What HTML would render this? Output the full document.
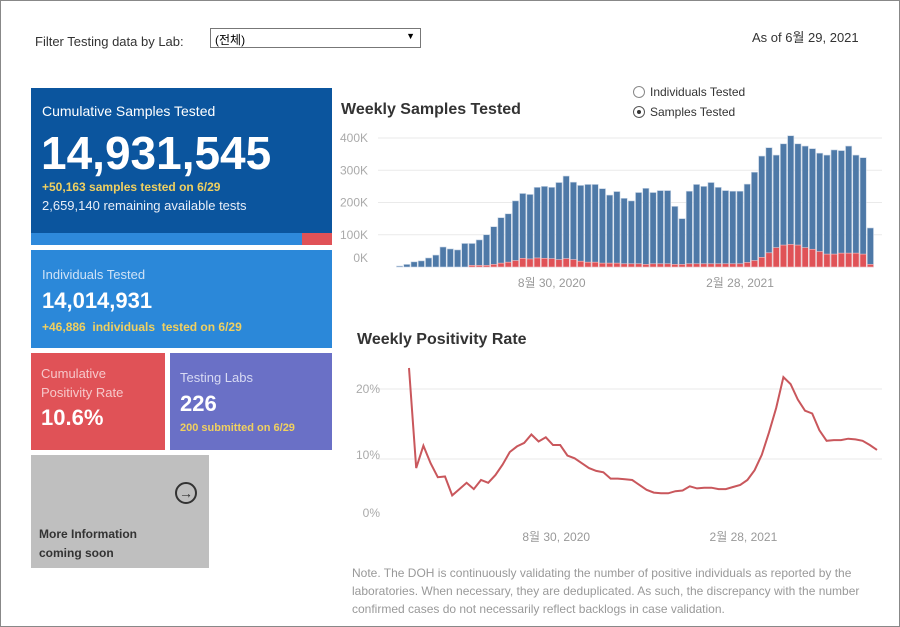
<!DOCTYPE html>
<html><head><meta charset="utf-8"><style>
body{margin:0;width:900px;height:627px;overflow:hidden;background:#fff;font-family:"Liberation Sans","Noto Sans CJK KR",sans-serif;position:relative}
.frame{position:absolute;left:0;top:0;width:898px;height:625px;border:1px solid #888}
.abs{position:absolute}
.t{position:absolute;white-space:nowrap}
</style></head><body>
<div class="frame"></div>
<div class="t" style="left:35px;top:34px;font-size:13px;color:#333">Filter Testing data by Lab:</div>
<div class="abs" style="left:210px;top:28px;width:209px;height:18px;border:1px solid #777;font-size:12px;"><span style="position:absolute;left:4px;top:2px">(전체)</span><span style="position:absolute;right:5px;top:2px;font-size:9px">▼</span></div>
<div class="t" style="left:752px;top:27px;font-size:13px;color:#333">As of 6월 29, 2021</div>

<div class="abs" style="left:31px;top:88px;width:301px;height:157px;background:#0b559e">
<div class="t" style="left:11px;top:15px;font-size:14px;color:#fff">Cumulative Samples Tested</div>
<div class="t" style="left:10px;top:38px;font-size:46px;font-weight:bold;color:#fff">14,931,545</div>
<div class="t" style="left:11px;top:92px;font-size:12px;font-weight:bold;color:#f0d060">+50,163 samples tested on 6/29</div>
<div class="t" style="left:11px;top:110px;font-size:13px;color:#e8eef8">2,659,140 remaining available tests</div>
<div class="abs" style="left:0;top:145px;width:271px;height:12px;background:#2e89db"></div>
<div class="abs" style="left:271px;top:145px;width:30px;height:12px;background:#e05257"></div>
</div>
<div class="abs" style="left:31px;top:250px;width:301px;height:98px;background:#2b88d9">
<div class="t" style="left:11px;top:17px;font-size:13px;color:#cfe2f6">Individuals Tested</div>
<div class="t" style="left:11px;top:38px;font-size:22px;font-weight:bold;color:#fff">14,014,931</div>
<div class="t" style="left:11px;top:70px;font-size:12px;font-weight:bold;color:#f0d060">+46,886 &nbsp;individuals &nbsp;tested on 6/29</div>
</div>
<div class="abs" style="left:31px;top:353px;width:134px;height:97px;background:#e05257">
<div class="t" style="left:10px;top:11px;font-size:13px;line-height:19px;color:#f6c8ca">Cumulative<br>Positivity Rate</div>
<div class="t" style="left:10px;top:52px;font-size:22px;font-weight:bold;color:#fff">10.6%</div>
</div>
<div class="abs" style="left:170px;top:353px;width:162px;height:97px;background:#6a70c6">
<div class="t" style="left:10px;top:17px;font-size:13px;color:#d8daf3">Testing Labs</div>
<div class="t" style="left:10px;top:38px;font-size:22px;font-weight:bold;color:#fff">226</div>
<div class="t" style="left:10px;top:69px;font-size:11px;font-weight:bold;color:#f0d060">200 submitted on 6/29</div>
</div>
<div class="abs" style="left:31px;top:455px;width:178px;height:113px;background:#bfbfbf">
<div class="abs" style="left:144px;top:27px;width:18px;height:18px;border:2px solid #333;border-radius:50%;font-size:14px;line-height:18px;text-align:center;color:#333">→</div>
<div class="t" style="left:8px;top:70px;font-size:12px;font-weight:bold;line-height:19px;color:#333">More Information<br>coming soon</div>
</div>

<div class="t" style="left:341px;top:101px;font-size:16px;font-weight:bold;color:#333">Weekly Samples Tested</div>
<div class="t" style="left:633px;top:85px;font-size:12px;color:#333"><span style="display:inline-block;width:10px;height:10px;border:1px solid #888;border-radius:50%;vertical-align:-2px;margin-right:5px"></span>Individuals Tested</div>
<div class="t" style="left:633px;top:105px;font-size:12px;color:#333"><span style="display:inline-block;width:10px;height:10px;border:1px solid #555;border-radius:50%;vertical-align:-2px;margin-right:5px;position:relative"><span style="position:absolute;left:3px;top:3px;width:4px;height:4px;background:#333;border-radius:50%"></span></span>Samples Tested</div>
<div class="t" style="left:357px;top:331px;font-size:16px;font-weight:bold;color:#333">Weekly Positivity Rate</div>
<div class="t" style="left:352px;top:564px;font-size:12px;line-height:18px;color:#999">Note. The DOH is continuously validating the number of positive individuals as reported by the<br>laboratories. When necessary, they are deduplicated. As such, the discrepancy with the number<br>confirmed cases do not necessarily reflect backlogs in case validation.</div>

<svg class="abs" style="left:0;top:0" width="900" height="627" id="charts"></svg>
<script>
const barTotals=[3,8,16,19,28,37,62,56,53,73,73,84,100,125,153,165,205,228,225,247,250,247,262,282,263,253,256,256,243,223,234,213,205,231,244,231,237,237,188,150,235,256,250,262,247,237,235,235,257,294,344,370,347,382,407,382,375,367,353,347,363,361,375,347,339,121];
const barPositives=[0,0,0,0,0,0,0,0,0,0,5,5,5,8,12,15,20,27,25,28,27,26,23,26,23,18,15,15,12,12,12,10,10,10,8,10,10,10,8,8,10,10,10,10,10,10,10,10,14,20,30,44,60,68,70,68,60,55,48,40,40,43,43,43,40,8];
const yTicks=[0,100,200,300,400];
const yTickLabels=["0K","100K","200K","300K","400K"];
const posRate=[23.0,8.7,11.9,9.4,7.4,7.5,4.8,5.7,6.6,5.7,7.0,6.6,7.7,9.2,11.0,11.8,12.3,13.5,12.5,13.1,12.0,12.0,10.5,10.1,9.4,8.7,8.3,8.1,7.2,7.2,7.1,7.0,6.3,5.6,5.2,5.1,5.1,5.4,5.5,6.1,5.8,5.9,5.9,5.7,5.7,6.0,6.3,7.0,8.4,10.6,13.8,17.3,21.7,20.7,18.5,16.9,16.5,14.1,12.6,12.7,12.7,12.9,12.8,12.6,12.0,11.3];
const pTicks=[0,10,20];
const pTickLabels=["0%","10%","20%"];
const xLabels=["8월 30, 2020","2월 28, 2021"];
const xLabelIdx=[21,47];

const svg=document.getElementById('charts');
const NS='http://www.w3.org/2000/svg';
function mk(t,a){const e=document.createElementNS(NS,t);for(const k in a)e.setAttribute(k,a[k]);svg.appendChild(e);return e;}
const bx0=396,bx1=874,by0=267,byTop=138;
const bxs=i=>bx0+i*(bx1-bx0)/barTotals.length;
const bw=(bx1-bx0)/barTotals.length;
const bys=v=>by0-(v/400)*(by0-byTop);
yTicks.forEach((v,i)=>{
  if(v>0){const g=mk('line',{x1:378,x2:882,y1:bys(v),y2:bys(v),stroke:'#eaeaea'});
  
  }
  const t=mk('text',{x:368,y:v===0?262:bys(v)+4,'text-anchor':'end','font-size':12,fill:'#aaa','font-family':'Liberation Sans'});
  t.textContent=yTickLabels[i];
  
  
});
barTotals.forEach((v,i)=>{
  const r=mk('rect',{x:bxs(i)+0.5,y:bys(v),width:bw-1,height:by0-bys(v),fill:'#4e79a7',stroke:'#c9d6e6','stroke-width':0.6});
  
  
  const p=barPositives[i];
  if(p>0){const q=mk('rect',{x:bxs(i)+0.5,y:bys(p),width:bw-1,height:by0-bys(p),fill:'#e05257',stroke:'#f3c5c7','stroke-width':0.6});
  
  }
});
xLabels.forEach((s,k)=>{
  const t=mk('text',{x:bxs(xLabelIdx[k])+bw/2,y:287,'text-anchor':'middle','font-size':12,fill:'#999','font-family':'Liberation Sans, Noto Sans CJK KR'});
  t.textContent=s;
  
  
});
const lx0=409,lx1=877,ly20=389,ly10=459;
const lxs=i=>lx0+i*(lx1-lx0)/(posRate.length-1);
const lys=v=>ly10-(v-10)*(ly10-ly20)/10;
pTicks.forEach((v,i)=>{
  if(v>0){const g=mk('line',{x1:376,x2:882,y1:lys(v),y2:lys(v),stroke:'#eaeaea'});
  
  }
  const t=mk('text',{x:380,y:v===0?517:lys(v)+(v===10?0:4),'text-anchor':'end','font-size':12,fill:'#aaa','font-family':'Liberation Sans'});
  t.textContent=pTickLabels[i];
  
  
});
const pl=mk('polyline',{points:posRate.map((v,i)=>lxs(i)+','+lys(v)).join(' '),fill:'none',stroke:'#c9575c','stroke-width':2});


xLabels.forEach((s,k)=>{
  const t=mk('text',{x:lxs(xLabelIdx[k])-4,y:541,'text-anchor':'middle','font-size':12,fill:'#999','font-family':'Liberation Sans, Noto Sans CJK KR'});
  t.textContent=s;
  
  
});
</script>
</body></html>
